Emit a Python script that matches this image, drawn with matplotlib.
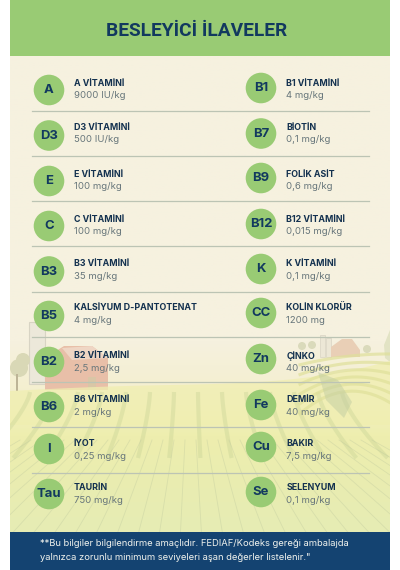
import numpy as np
import matplotlib
matplotlib.use("Agg")
import matplotlib.pyplot as plt
from matplotlib.colors import LinearSegmentedColormap
from matplotlib.patches import Circle, Polygon, Rectangle

left_badges = ["A", "D3", "E", "C", "B3", "B5", "B2", "B6", "I", "Tau"]
left_names = ["A VİTAMİNİ", "D3 VİTAMİNİ", "E VİTAMİNİ", "C VİTAMİNİ", "B3 VİTAMİNİ",
              "KALSİYUM D-PANTOTENAT", "B2 VİTAMİNİ", "B6 VİTAMİNİ", "İYOT", "TAURİN"]
left_amounts = ["9000 IU/kg", "500 IU/kg", "100 mg/kg", "100 mg/kg", "35 mg/kg",
                "4 mg/kg", "2,5 mg/kg", "2 mg/kg", "0,25 mg/kg", "750 mg/kg"]

right_badges = ["B1", "B7", "B9", "B12", "K", "CC", "Zn", "Fe", "Cu", "Se"]
right_names = ["B1 VİTAMİNİ", "BİOTİN", "FOLİK ASİT", "B12 VİTAMİNİ", "K VİTAMİNİ",
               "KOLİN KLORÜR", "ÇİNKO", "DEMİR", "BAKIR", "SELENYUM"]
right_amounts = ["4 mg/kg", "0,1 mg/kg", "0,6 mg/kg", "0,015 mg/kg", "0,1 mg/kg",
                 "1200 mg", "40 mg/kg", "40 mg/kg", "7,5 mg/kg", "0,1 mg/kg"]

title = "BESLEYİCİ İLAVELER"
footnote = ["**Bu bilgiler bilgilendirme amaçlıdır. FEDIAF/Kodeks gereği ambalajda",
            "yalnızca zorunlu minimum seviyeleri aşan değerler listelenir.\""]

# layout, in pixels of the 400x570 picture
left_circle_y = [90, 135.5, 181, 226, 271.5, 316, 362, 407, 449, 494]
right_circle_y = [88, 133.5, 178, 224, 269, 313, 359, 405, 447, 492]
name_y = [83.5, 127, 174.5, 219, 264, 308, 356, 400, 444, 488]
rule_y = [110.5, 155.5, 201, 246, 291.5, 336.5, 382, 427, 472.5]

NAVY = "#12395f"
DARK = "#13314f"
GREEN = "#99cb74"
GREY = "#66757a"


def draw_scenery(ax, clip):
    def add(patch):
        ax.add_patch(patch)
        patch.set_clip_path(clip)

    # cream at the top fading to a pale yellow green towards the bottom
    fade = LinearSegmentedColormap.from_list(
        "fade", [(0, "#f6f1df"), (0.6, "#f6f1df"), (0.7, "#f4efd0"), (0.8, "#eeeeae"),
                 (0.88, "#eaedb0"), (1, "#e6ecb4")])
    ax.imshow(np.linspace(0, 1, 256).reshape(-1, 1), extent=(10, 390, 532, 55), cmap=fade,
              aspect="auto", zorder=0)

    # left barn and silo
    add(Rectangle((29, 322), 16, 62, fc="#ece8da", ec="#d8d4c4", lw=0.8, zorder=1))
    add(Polygon([(45, 390), (45, 358), (64, 346), (92, 346), (108, 358), (108, 390)],
                fc="#e8bfa8", ec="none", zorder=1))
    add(Polygon([(62, 348), (92, 346), (108, 358), (72, 360)], fc="#efd6c4", ec="none", zorder=1))
    add(Rectangle((88, 377), 8, 13, fc="#d9c6a6", ec="none", zorder=1))
    # left tree
    add(Circle((19, 368), 9, fc="#d9d8b6", ec="none", zorder=1))
    add(Circle((23, 360), 7, fc="#d9d8b6", ec="none", zorder=1))
    add(Rectangle((16, 374), 2, 17, fc="#bdb497", ec="none", zorder=1))

    # right farm
    add(Rectangle((320, 335), 5, 22, fc="#ece7d6", ec="#d8d4c4", lw=0.5, zorder=1))
    add(Rectangle((326, 338), 5, 19, fc="#ece7d6", ec="#d8d4c4", lw=0.5, zorder=1))
    add(Polygon([(331, 357), (331, 347), (342, 339), (352, 339), (360, 350), (360, 357)],
                fc="#e9cfb6", ec="none", zorder=1))
    for cx, cy in [(302, 346), (312, 345), (367, 349)]:
        add(Circle((cx, cy), 4, fc="#dadabb", ec="none", zorder=1))
    add(Polygon([(390, 330), (384, 345), (385, 358), (390, 362)], fc="#e2e3c4", ec="none", zorder=1))

    # hill crest rising towards the right, only the part above the field gradient
    x = np.linspace(10, 390, 60)
    t = (x - 10) / 380
    crest = 391 - 4 * np.sin(t * 5) - 34 * t ** 3
    add(Polygon(np.column_stack([np.r_[x, 390, 10], np.r_[crest, 425, 425]]),
                fc="#f0eeb0", ec="none", alpha=0.75, zorder=1))

    # heavy furrows fanning out below the crest
    for start in np.arange(30, 360, 24):
        end = 190 + (start - 190) * 1.3
        y = np.linspace(392, 458, 20)
        s = (y - 392) / 66
        line, = ax.plot(start + (end - start) * s ** 1.4, y, color="#bccb8e", lw=3.0, alpha=0.3,
                        zorder=1, solid_capstyle="butt")
        line.set_clip_path(clip)
    # sweeping rows on the right hill
    for i in range(6):
        sx = np.linspace(300, 390, 20)
        sy = 362 + i * 7 + 22 * ((sx - 300) / 90 - 0.5) ** 2 * (i + 1) / 2 - (sx - 300) * 0.12
        line, = ax.plot(sx, sy, color="#dfe09a", lw=2.2, alpha=0.7, zorder=1)
        line.set_clip_path(clip)
    # fine strokes lower down
    for start in np.arange(20, 380, 11):
        end = 190 + (start - 190) * 1.9
        y = np.linspace(440, 532, 12)
        s = (y - 440) / 92
        line, = ax.plot(start + (end - start) * s, y, color="#b9c49c", lw=0.6, alpha=0.35, zorder=1)
        line.set_clip_path(clip)

    # soft tree shadow on the right field
    add(Polygon([(318, 372), (338, 380), (352, 402), (344, 418), (326, 400)],
                fc="#c2cda2", ec="none", alpha=0.5, zorder=1))


def draw_column(ax, badges, names, amounts, circle_y, circle_x, text_x):
    for badge, name, amount, cy, ny in zip(badges, names, amounts, circle_y, name_y):
        ax.add_patch(Circle((circle_x, cy), 15.3, fc=GREEN, ec="none", zorder=3))
        ax.text(circle_x, cy + 0.3, badge, ha="center", va="center", color=NAVY, fontsize=9.4,
                fontweight="bold", family="Inter", zorder=4)
        ax.text(text_x, ny, name, ha="left", va="center", color=DARK, fontsize=6.4,
                fontweight="bold", family="Inter", zorder=4)
        ax.text(text_x, ny + 12.3, amount, ha="left", va="center", color=GREY, fontsize=6.9,
                family="Inter", zorder=4)


def main():
    figure = plt.figure(figsize=(4.0, 5.7), dpi=100)
    axes = figure.add_axes([0, 0, 1, 1])
    axes.axis("off")

    panel = Rectangle((10, 55), 380, 477, fc="none", ec="none", transform=axes.transData)
    axes.add_patch(panel)
    draw_scenery(axes, panel)
    axes.set_xlim(0, 400)
    axes.set_ylim(570, 0)

    # header and footer bands
    axes.add_patch(Rectangle((10, 0), 380, 55.5, fc=GREEN, ec="none", zorder=2))
    axes.add_patch(Rectangle((10, 532), 380, 38, fc="#144371", ec="none", zorder=2))
    axes.text(197, 31, title, ha="center", va="center", color=NAVY, fontsize=13.8,
              fontweight="bold", family=["Liberation Sans Narrow", "Roboto"], zorder=4)

    for y in rule_y:
        axes.plot([32, 369], [y, y], color="#bcc4b4", lw=0.9, zorder=2)

    draw_column(axes, left_badges, left_names, left_amounts, left_circle_y, 49, 74)
    draw_column(axes, right_badges, right_names, right_amounts, right_circle_y, 261, 286.5)

    for line, y in zip(footnote, [544, 557]):
        axes.text(40, y, line, ha="left", va="center", color="#f1f3ee", fontsize=6.75,
                  family="Inter", zorder=4)

    figure.savefig("out.png", dpi=100)


if (__name__ == "__main__"):
    main()
